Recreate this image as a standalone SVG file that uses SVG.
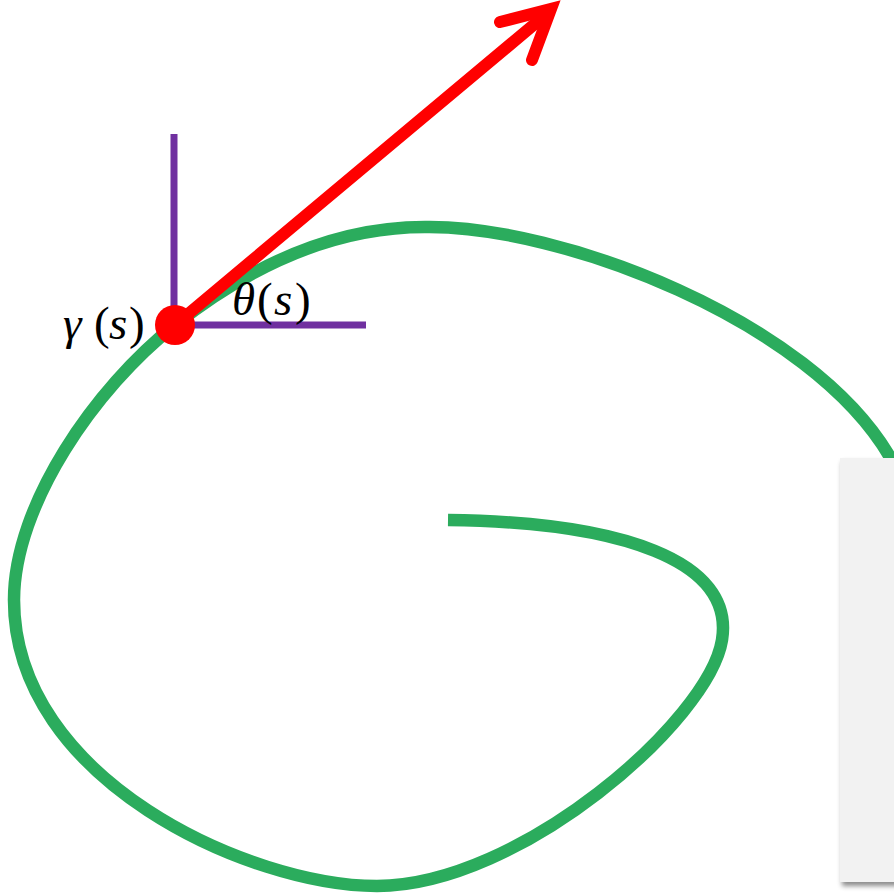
<svg xmlns="http://www.w3.org/2000/svg" width="894" height="893" viewBox="0 0 894 893">
<defs>
<style>
.curve{fill:none;stroke:#2bac5d;stroke-width:12.5;stroke-linecap:butt}
.axis{fill:none;stroke:#7030a0;stroke-width:7}
.vec{fill:none;stroke:#ff0000;stroke-width:12;stroke-linecap:round;stroke-linejoin:miter}
.lbl{font-family:"Liberation Serif","Times New Roman","DejaVu Serif",serif;font-size:47px;fill:#000}
.it{font-style:italic}
</style>
<filter id="sh" x="-20%" y="-5%" width="140%" height="112%">
<feDropShadow dx="2" dy="4" stdDeviation="2.5" flood-color="#000" flood-opacity="0.45"/>
</filter>
</defs>
<rect width="894" height="893" fill="#fff"/>
<g id="curve">
<path class="curve" d="M448,520 C620,522 735,560 722,640 C709,720 520,886 377,886 C250,886 14,780 14,600 C14,505 95,388 175,325 C255,262 340,227 425,227 C560,225 810,320 890,457 C905,483 915,505 922,522"/>
</g>
<g id="axes">
<line class="axis" x1="174" y1="134" x2="174" y2="325"/>
<line class="axis" x1="174" y1="325" x2="366" y2="325"/>
</g>
<g id="tangent">
<line class="vec" x1="175" y1="325" x2="549" y2="12"/>
<path class="vec" d="M500,22 L551,9 L532,60"/>
</g>
<g id="point">
<circle cx="175" cy="325" r="20" fill="#ff0000"/>
</g>
<g id="labels">
<text class="lbl" y="339"><tspan class="it" x="63">γ</tspan><tspan x="94">(</tspan><tspan class="it" x="109">s</tspan><tspan x="129">)</tspan></text>
<text class="lbl" y="315"><tspan class="it" x="232">θ</tspan><tspan x="257">(</tspan><tspan class="it" x="274">s</tspan><tspan x="295">)</tspan></text>
</g>
<g id="panel">
<rect x="840" y="458" width="60" height="424" fill="#f2f2f2" filter="url(#sh)"/>
</g>
</svg>
